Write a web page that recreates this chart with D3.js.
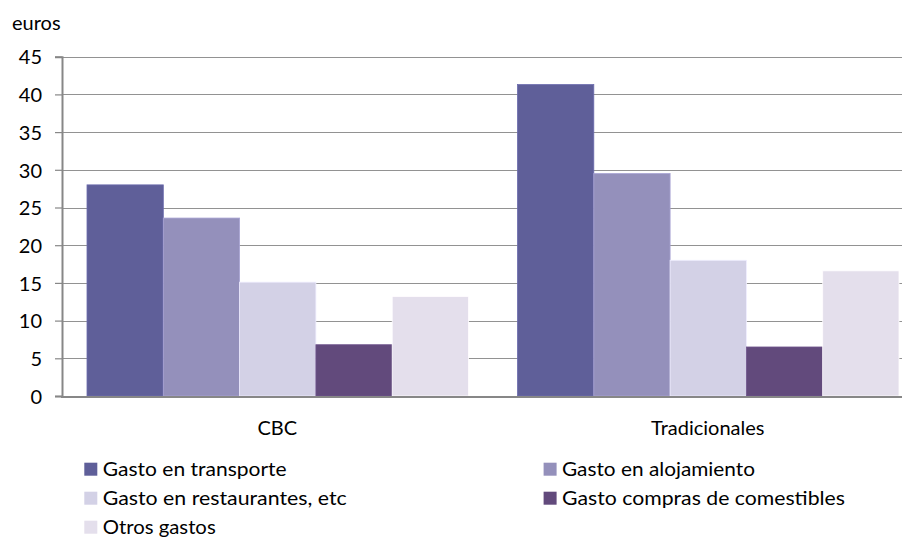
<!DOCTYPE html>
<html>
<head>
<meta charset="utf-8">
<script src="https://cdn.jsdelivr.net/npm/d3@7"></script>
<style>
  html, body { margin: 0; padding: 0; background: #fff; }
  svg { display: block; font-family: Lato, "Open Sans", sans-serif; }
</style>
</head>
<body>
<svg id="chart" width="902" height="539"></svg>
<script>
// Average spend per visitor, by type of traveller (euros)
const groups = ["CBC", "Tradicionales"];
const seriesNames = [
  "Gasto en transporte",
  "Gasto en alojamiento",
  "Gasto en restaurantes, etc",
  "Gasto compras de comestibles",
  "Otros gastos"
];
const transporte   = [28.0, 41.3];
const alojamiento  = [23.6, 29.5];
const restaurantes = [15.1, 18.0];
const comestibles  = [6.8, 6.5];
const otros        = [13.2, 16.6];
const yTicks = [0, 5, 10, 15, 20, 25, 30, 35, 40, 45];
const unitLabel = "euros";

const seriesValues = [transporte, alojamiento, restaurantes, comestibles, otros];
const colors = ["#5f5f99", "#9490bb", "#d3d1e6", "#624a7c", "#e4dfec"];

const svg = d3.select("#chart");

const plotLeft = 62, plotTop = 56.7, plotBottom = 396, plotRight = 923;

const y = d3.scaleLinear().domain([0, 45]).range([plotBottom, plotTop]);
const x0 = d3.scaleBand().domain(groups).range([plotLeft, plotRight]);
const x1 = d3.scaleBand()
  .domain(seriesNames)
  .range([25, x0.bandwidth() - 24]);

// horizontal gridlines
svg.append("g")
  .selectAll("line")
  .data(yTicks.filter(t => t > 0))
  .join("line")
  .attr("x1", plotLeft).attr("x2", 902)
  .attr("y1", d => Math.round(y(d)) + 0.5)
  .attr("y2", d => Math.round(y(d)) + 0.5)
  .attr("stroke", "#929292")
  .attr("stroke-width", 1);

// bars
const rows = [];
groups.forEach((g, gi) => {
  seriesNames.forEach((s, si) => {
    rows.push({ group: g, series: s, value: seriesValues[si][gi], color: colors[si] });
  });
});

svg.append("g")
  .selectAll("rect")
  .data(rows)
  .join("rect")
  .attr("x", d => x0(d.group) + x1(d.series))
  .attr("y", d => y(d.value))
  .attr("width", x1.bandwidth())
  .attr("height", d => y(0) - y(d.value))
  .attr("fill", d => d.color)
  .attr("stroke", d => d3.color(d.color).brighter(0.35))
  .attr("stroke-width", 0.8);

// y axis
const yAxis = svg.append("g")
  .attr("transform", `translate(${plotLeft},0)`)
  .call(d3.axisLeft(y).tickValues(yTicks).tickSize(7).tickPadding(13).tickFormat(d3.format("d")));
yAxis.select(".domain").attr("stroke", "#878787").attr("stroke-width", 2);
yAxis.selectAll(".tick line").attr("stroke", "#878787").attr("stroke-width", 1.2);
yAxis.selectAll(".tick text")
  .attr("font-family", "Lato, sans-serif")
  .attr("font-size", 20)
  .attr("fill", "#000")
  .attr("dy", "0.36em");

// x axis baseline
svg.append("line")
  .attr("x1", plotLeft - 1).attr("x2", 902)
  .attr("y1", y(0) + 1).attr("y2", y(0) + 1)
  .attr("stroke", "#878787").attr("stroke-width", 2);

// category labels
svg.append("g")
  .selectAll("text")
  .data(groups)
  .join("text")
  .attr("x", d => x0(d) + x0.bandwidth() / 2)
  .attr("y", 435)
  .attr("text-anchor", "middle")
  .attr("font-size", 20)
  .attr("fill", "#000")
  .text(d => d);

// unit label
svg.append("text")
  .attr("x", 12).attr("y", 29.5)
  .attr("font-size", 20)
  .attr("fill", "#000")
  .text(unitLabel);

// legend (two columns, row-major)
const legendCols = [84.3, 543.6];
const legendRow0 = 462.7, legendStep = 29;
const legendWidths = [184, 193, 244, 283, 113];
const legend = svg.append("g")
  .selectAll("g")
  .data(seriesNames)
  .join("g")
  .attr("transform", (d, i) => `translate(${legendCols[i % 2]},${legendRow0 + Math.floor(i / 2) * legendStep})`);
legend.append("rect")
  .attr("width", 13).attr("height", 13)
  .attr("fill", (d, i) => colors[i]);
legend.append("text")
  .attr("x", 18.4).attr("y", 13)
  .attr("font-size", 19)
  .attr("fill", "#000")
  .attr("textLength", (d, i) => legendWidths[i])
  .attr("lengthAdjust", "spacingAndGlyphs")
  .text(d => d);
</script>
</body>
</html>
